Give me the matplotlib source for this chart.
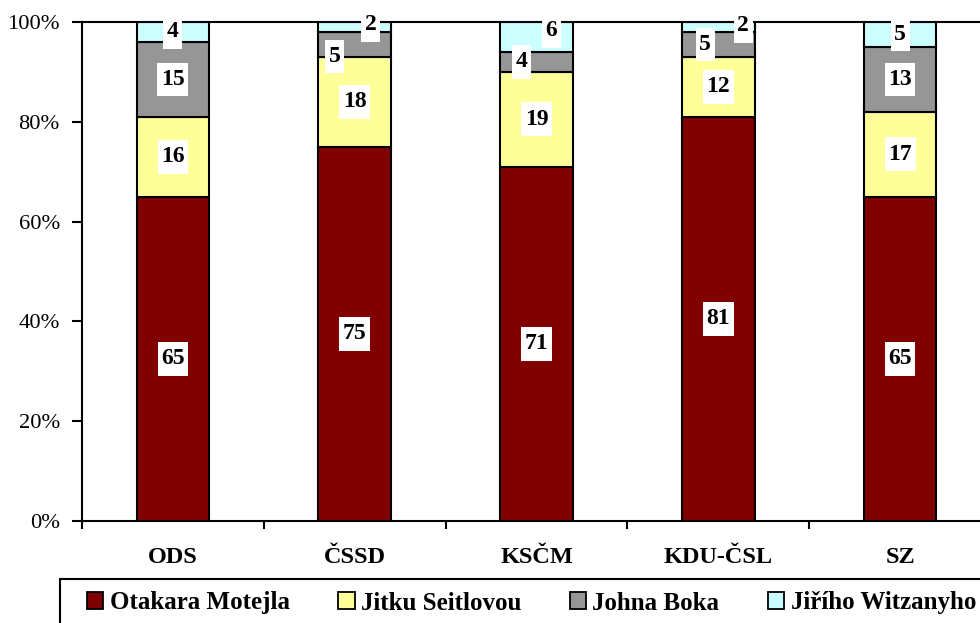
import matplotlib.pyplot as plt
from matplotlib.patches import Patch, Rectangle
from matplotlib.path import Path
import numpy as np

plt.rcParams['font.family'] = ['Liberation Serif', 'DejaVu Serif']

# data
parties = ['ODS', 'ČSSD', 'KSČM', 'KDU-ČSL', 'SZ']
candidates = ['Otakara Motejla', 'Jitku Seitlovou', 'Johna Boka', 'Jiřího Witzanyho']
motejl = [65, 75, 71, 81, 65]
seitlova = [16, 18, 19, 12, 17]
bok = [15, 5, 4, 5, 13]
witzany = [4, 2, 6, 2, 5]

series = [motejl, seitlova, bok, witzany]
colors = ['#800000', '#FFFF99', '#969696', '#CCFFFF']

# label nudges (pixels) where Excel moved small labels aside
nudge = {(1, 3): (16, 2), (1, 2): (-20, -12),
         (2, 3): (15, 6), (2, 2): (-15, 0),
         (3, 3): (25, 1), (3, 2): (-13, 0)}


def label_box(x0, y0, width, height, mutation_size):
    # white box, a bit taller than wide like Excel's labels
    px, py = 0.15 * mutation_size, 0.27 * mutation_size
    x0, y0 = x0 - px, y0 - py
    x1, y1 = x0 + width + 2 * px, y0 + height + 2 * py
    return Path([(x0, y0), (x1, y0), (x1, y1), (x0, y1), (x0, y0)], closed=True)


W, H = 980, 623
fig = plt.figure(figsize=(W / 100, H / 100), dpi=100)
ax = fig.add_axes([82 / W, 1 - 521 / H, (991 - 82) / W, (521 - 22) / H])

x = np.arange(len(parties))
bottom = np.zeros(len(parties))
for j, (vals, col) in enumerate(zip(series, colors)):
    ax.bar(x, vals, 0.4, bottom=bottom, color=col, edgecolor='black', linewidth=1.5, zorder=2)
    for i, v in enumerate(vals):
        dx, dy = nudge.get((i, j), (0, 0))
        ax.annotate(str(v), (x[i], bottom[i] + v / 2), xytext=(dx, dy), textcoords='offset pixels',
                    ha='center', va='center', fontsize=17, fontweight='bold', zorder=5,
                    annotation_clip=False,
                    bbox=dict(boxstyle=label_box, fc='white', ec='none'))
    bottom += np.array(vals)

ax.set_xlim(-0.5, len(parties) - 0.5)
ax.set_ylim(0, 100)
ax.set_yticks(np.arange(0, 101, 20))
ax.set_yticklabels(['%d%%' % t for t in range(0, 101, 20)], fontsize=16.2)
ax.tick_params(axis='y', length=7, width=1.5, pad=9)

ax.set_xticks(np.arange(-0.5, len(parties), 1))
ax.set_xticklabels([])
ax.tick_params(axis='x', which='major', length=6, width=1.5)
ax.set_xticks(x, minor=True)
ax.set_xticklabels(parties, minor=True, fontsize=17.5, fontweight='bold')
ax.tick_params(axis='x', which='minor', length=0, pad=19)

for s in ax.spines.values():
    s.set_linewidth(1.5)

# legend
handles = [Patch(facecolor=c, edgecolor='black', linewidth=1.3) for c in colors]
fig.legend(handles, candidates, ncol=4, frameon=False, loc='center left',
           bbox_to_anchor=(87 / W, 1 - 603 / H), prop={'size': 18, 'weight': 'bold'},
           handlelength=0.65, handleheight=0.65, handletextpad=0.25, columnspacing=1.95,
           borderaxespad=0, borderpad=0)
fig.patches.append(Rectangle((60 / W, -0.1), 1.0, 1 - 579 / H + 0.1, transform=fig.transFigure,
                             fill=False, edgecolor='black', linewidth=1.5))

fig.savefig('out.png', dpi=100)
